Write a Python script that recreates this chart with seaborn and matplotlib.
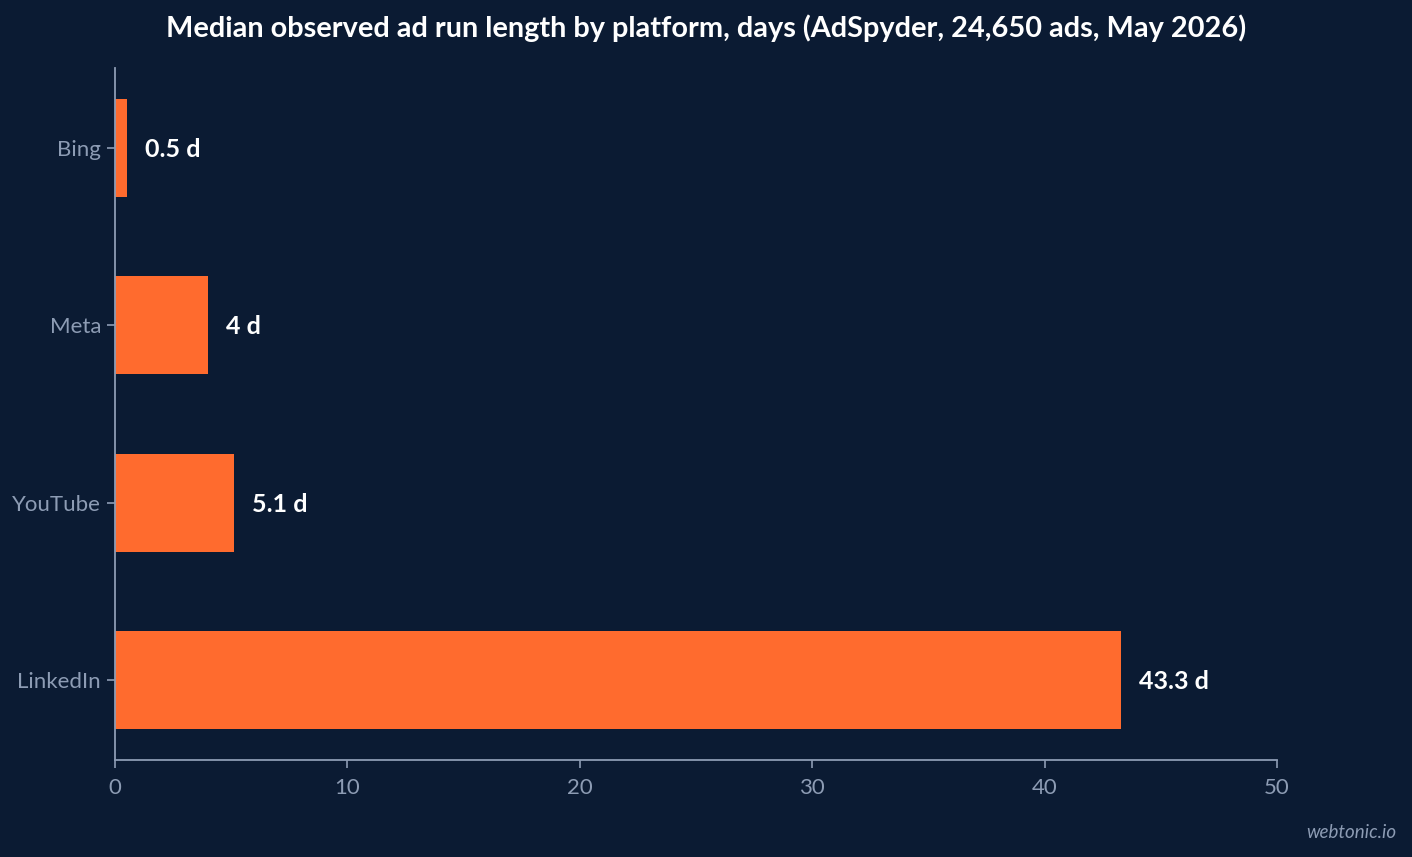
import matplotlib
matplotlib.use("Agg")
import matplotlib.pyplot as plt
import seaborn as sns
import pandas as pd

platforms = ["Bing", "Meta", "YouTube", "LinkedIn"]
median_days = [0.5, 4, 5.1, 43.3]
value_labels = ["0.5 d", "4 d", "5.1 d", "43.3 d"]
x_ticks = [0, 10, 20, 30, 40, 50]

BG = "#0b1b33"
BAR = "#ff6b2e"
MUTED = "#8d9cb4"
WHITE = "#ffffff"

sns.set_theme(style="white")
plt.rcParams["font.family"] = ["Lato", "DejaVu Sans"]

df = pd.DataFrame({"platform": platforms, "days": median_days})

fig = plt.figure(figsize=(14.12, 8.57), dpi=100, facecolor=BG)
ax = fig.add_axes([115 / 1412, 1 - 760 / 857, (1277 - 115) / 1412, (760 - 68) / 857])
ax.set_facecolor(BG)

sns.barplot(data=df, x="days", y="platform", order=platforms, color=BAR,
            width=0.55, saturation=1, orient="h", ax=ax, edgecolor="none")

for patch, lab in zip(ax.patches, value_labels):
    w = patch.get_width()
    yc = patch.get_y() + patch.get_height() / 2
    ax.annotate(lab, (w, yc), xytext=(18, -1.5), textcoords="offset pixels",
                va="center", ha="left", color=WHITE, fontsize=18, fontweight="bold")

ax.set_xlim(0, 50)
ax.set_ylim(3.45, -0.45)
ax.set_xticks(x_ticks)
ax.set_xticklabels([str(t) for t in x_ticks])
ax.set_xlabel("")
ax.set_ylabel("")

for s in ["top", "right"]:
    ax.spines[s].set_visible(False)
for s in ["left", "bottom"]:
    ax.spines[s].set_color(MUTED)
    ax.spines[s].set_linewidth(1.3)

ax.tick_params(axis="both", colors=MUTED, labelcolor=MUTED, labelsize=16,
               length=6, width=1.2, left=True, bottom=True)
ax.tick_params(axis="y", pad=4)
ax.tick_params(axis="x", pad=7)
for t in ax.get_yticklabels():
    t.set_verticalalignment("center_baseline")

fig.text(0.5, 1 - 28 / 857, "Median observed ad run length by platform, days (AdSpyder, 24,650 ads, May 2026)",
         ha="center", va="center", color=WHITE, fontsize=20.8, fontweight="bold")
fig.text(1396 / 1412, 1 - 832 / 857, "webtonic.io", ha="right", va="center",
         color=MUTED, fontsize=13.5, style="italic")

fig.savefig("out.png", dpi=100, facecolor=BG)
